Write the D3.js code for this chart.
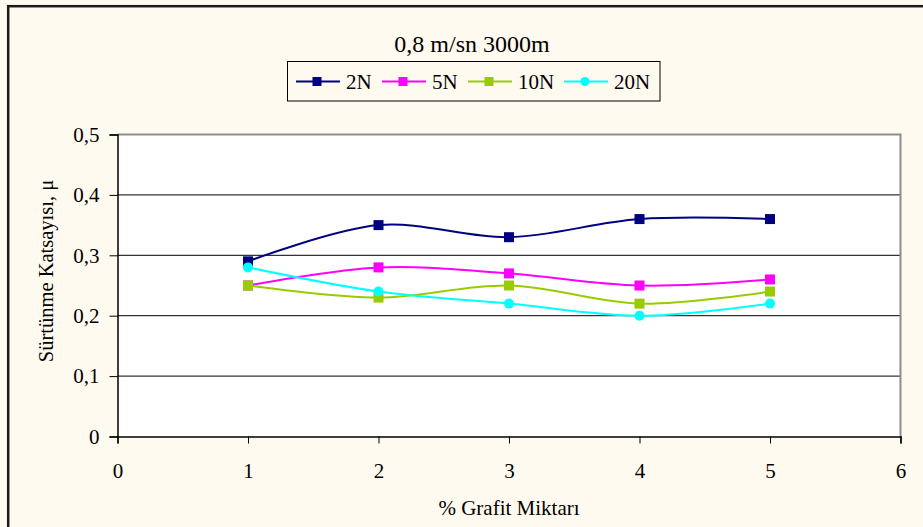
<!DOCTYPE html>
<html>
<head>
<meta charset="utf-8">
<script src="https://cdn.jsdelivr.net/npm/d3@7"></script>
<style>
  html, body { margin: 0; padding: 0; background: #fffaef; }
  svg { display: block; }
  text { font-family: "Liberation Serif", "Times New Roman", serif; fill: #000; }
</style>
</head>
<body>
<svg id="chart" width="923" height="527"></svg>
<script>
const title = "0,8 m/sn 3000m";
const xLabel = "% Grafit Miktarı";
const yLabel = "Sürtünme Katsayısı, μ";
const xValues = [1, 2, 3, 4, 5];
const seriesNames = ["2N", "5N", "10N", "20N"];
const values2N = [0.29, 0.35, 0.33, 0.36, 0.36];
const values5N = [0.25, 0.28, 0.27, 0.25, 0.26];
const values10N = [0.25, 0.23, 0.25, 0.22, 0.24];
const values20N = [0.28, 0.24, 0.22, 0.20, 0.22];
const seriesColors = ["#000080", "#ff00ff", "#99cc00", "#00ffff"];
const seriesMarkers = ["square", "square", "square", "circle"];
const xTicks = [0, 1, 2, 3, 4, 5, 6];
const yTicks = [0, 0.1, 0.2, 0.3, 0.4, 0.5];
const yTickLabels = ["0", "0,1", "0,2", "0,3", "0,4", "0,5"];

const series = [values2N, values5N, values10N, values20N].map((vals, i) => ({
  name: seriesNames[i], color: seriesColors[i], marker: seriesMarkers[i],
  points: vals.map((v, j) => ({ x: xValues[j], y: v }))
}));

const svg = d3.select("#chart");
const W = 923, H = 527;
const plot = { left: 117.5, right: 900.5, top: 134.5, bottom: 436.5 };

// chart area background + border
svg.append("rect").attr("x", 0).attr("y", 0).attr("width", W).attr("height", H).attr("fill", "#fffaef");
svg.append("rect").attr("x", 8.2).attr("y", 6.2).attr("width", W + 20).attr("height", H + 20)
  .attr("fill", "#fffaef").attr("stroke", "#1a1a1a").attr("stroke-width", 2.5);

const x = d3.scaleLinear().domain([0, 6]).range([plot.left, plot.right]);
const y = d3.scaleLinear().domain([0, 0.5]).range([plot.bottom, plot.top]);

// plot area
svg.append("rect").attr("x", plot.left).attr("y", plot.top)
  .attr("width", plot.right - plot.left).attr("height", plot.bottom - plot.top)
  .attr("fill", "#ffffff");

// gridlines
svg.append("g").selectAll("line").data(yTicks.filter(t => t > 0 && t < 0.5)).join("line")
  .attr("x1", plot.left).attr("x2", plot.right)
  .attr("y1", d => y(d)).attr("y2", d => y(d))
  .attr("stroke", "#000").attr("stroke-width", 1);

// plot border (top/right gray)
svg.append("path")
  .attr("d", `M${plot.left},${plot.top}H${plot.right}V${plot.bottom}`)
  .attr("fill", "none").attr("stroke", "#8c8c8c").attr("stroke-width", 2);

// axes
const xAxis = d3.axisBottom(x).tickValues(xTicks).tickSize(7).tickPadding(19.5)
  .tickFormat(d3.format("d"));
const gx = svg.append("g").attr("transform", `translate(0,${plot.bottom})`).call(xAxis);
gx.select(".domain").attr("stroke", "#000").attr("stroke-width", 1.5);
gx.selectAll(".tick line").attr("stroke", "#000");
gx.selectAll(".tick text").attr("font-size", 21).attr("font-family", "Liberation Serif").attr("fill", "#000");

const yAxis = d3.axisLeft(y).tickValues(yTicks).tickSize(8).tickPadding(10)
  .tickFormat((d, i) => yTickLabels[i]);
const gy = svg.append("g").attr("transform", `translate(${plot.left},0)`).call(yAxis);
gy.select(".domain").attr("stroke", "#000").attr("stroke-width", 1.5);
gy.selectAll(".tick line").attr("stroke", "#000");
gy.selectAll(".tick text").attr("font-size", 21).attr("font-family", "Liberation Serif").attr("fill", "#000");

// lines
const line = d3.line().x(d => x(d.x)).y(d => y(d.y)).curve(d3.curveCardinal.tension(0));
const gLines = svg.append("g");
series.forEach(s => {
  gLines.append("path").datum(s.points).attr("d", line)
    .attr("fill", "none").attr("stroke", s.color).attr("stroke-width", 2);
});
function drawMarker(g, type, cx, cy, color, size) {
  if (type === "circle") {
    g.append("circle").attr("cx", cx).attr("cy", cy).attr("r", size / 2).attr("fill", color);
  } else {
    g.append("rect").attr("x", cx - size / 2).attr("y", cy - size / 2)
      .attr("width", size).attr("height", size).attr("fill", color);
  }
}
series.forEach(s => {
  const g = svg.append("g");
  s.points.forEach(p => drawMarker(g, s.marker, x(p.x), y(p.y), s.color, 10));
});

// title
svg.append("text").attr("x", 472).attr("y", 52).attr("text-anchor", "middle")
  .attr("font-size", 24).text(title);

// legend
svg.append("rect").attr("x", 287.5).attr("y", 61.5).attr("width", 372.5).attr("height", 39.5)
  .attr("fill", "#fffaef").attr("stroke", "#000").attr("stroke-width", 1);
const legendX = [296, 382, 468, 564];
series.forEach((s, i) => {
  const lx = legendX[i];
  const g = svg.append("g");
  g.append("line").attr("x1", lx).attr("x2", lx + 44).attr("y1", 81.5).attr("y2", 81.5)
    .attr("stroke", s.color).attr("stroke-width", 2);
  drawMarker(g, s.marker, lx + 21, 81.5, s.color, 9);
  g.append("text").attr("x", lx + 50).attr("y", 88.5).attr("font-size", 21).text(s.name);
});

// axis titles
svg.append("text").attr("x", (plot.left + plot.right) / 2).attr("y", 515)
  .attr("text-anchor", "middle").attr("font-size", 21).text(xLabel);
svg.append("text").attr("transform", "translate(53,271) rotate(-90)")
  .attr("text-anchor", "middle").attr("font-size", 20.5).text(yLabel);
</script>
</body>
</html>
